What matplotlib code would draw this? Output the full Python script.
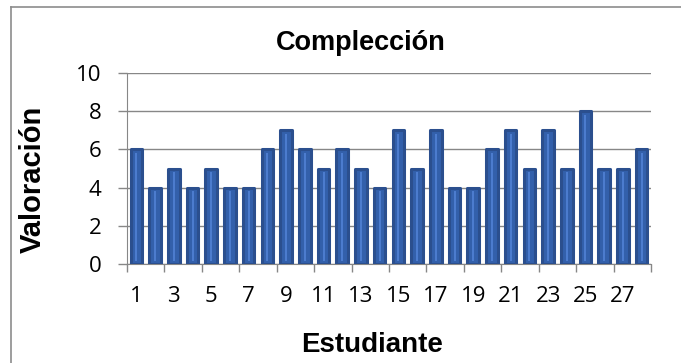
#!/usr/bin/env python3

import numpy as np
import matplotlib
matplotlib.use("Agg")
import matplotlib.pyplot as plt
from matplotlib.lines import Line2D

# data
estudiantes = list(range(1, 29))
valoracion = [6, 4, 5, 4, 5, 4, 4, 6, 7, 6, 5, 6, 5, 4, 7, 5, 7, 4, 4, 6, 7, 5, 7, 5, 8, 5, 5, 6]
y_ticks = [0, 2, 4, 6, 8, 10]
x_labels = [str(i) for i in range(1, 28, 2)]

W, H = 681, 363
fig = plt.figure(figsize=(W / 100, H / 100), dpi=100)
ax = fig.add_axes([127 / W, 1 - 264 / H, (651 - 127) / W, (264 - 73) / H])

grid_col = "#878787"
bars = ax.bar(estudiantes, valoracion, width=0.62, color="#3360ab",
              edgecolor="#2b4f8e", linewidth=2.2, zorder=3)
for b in bars:
    b.set_joinstyle("round")
# light highlight stripe inside each bar
for x, v in zip(estudiantes, valoracion):
    ax.plot([x, x], [0.15, v - 0.2], color="#4f80d2", lw=1.3, zorder=4,
            solid_capstyle="butt")

ax.set_xlim(0.5, 28.5)
ax.set_ylim(0, 10)
ax.set_yticks(y_ticks)
ax.set_yticklabels([str(t) for t in y_ticks])
ax.yaxis.grid(True, color=grid_col, lw=1)
ax.set_axisbelow(True)

ax.set_xticks(np.arange(1, 28, 2))
ax.set_xticklabels(x_labels)
ax.set_xticks(np.arange(0.5, 28.6, 2), minor=True)
ax.tick_params(axis="x", which="major", length=0, pad=16)
ax.tick_params(axis="x", which="minor", length=6, color=grid_col, width=1)
ax.tick_params(axis="y", length=6.5, color=grid_col, width=1, pad=12)

for lab in ax.get_xticklabels() + ax.get_yticklabels():
    lab.set_fontfamily("Open Sans")
    lab.set_fontsize(16)
    lab.set_color("#000000")

for s in ("top", "right"):
    ax.spines[s].set_visible(False)
ax.spines["left"].set_color(grid_col)
ax.spines["bottom"].set_color(grid_col)

fig.text(361 / W, 1 - 50 / H, "Complección", ha="center", va="baseline",
         fontsize=19.5, fontweight="bold", family="Liberation Sans")
fig.text(372 / W, 1 - 352 / H, "Estudiante", ha="center", va="baseline",
         fontsize=20, fontweight="bold", family="Liberation Sans")
fig.text(33 / W, 1 - 179 / H, "Valoración", ha="center", va="center",
         rotation=90, fontsize=21, fontweight="bold", family="Liberation Sans")

# outer chart frame (left and top edges visible)
fig.add_artist(Line2D([11 / W, 11 / W], [1 - 7 / H, 0], transform=fig.transFigure,
                      color="#8c8c8c", lw=1.2))
fig.add_artist(Line2D([11 / W, 1], [1 - 7 / H, 1 - 7 / H], transform=fig.transFigure,
                      color="#8c8c8c", lw=1.2))

fig.savefig("out.png", dpi=100)
